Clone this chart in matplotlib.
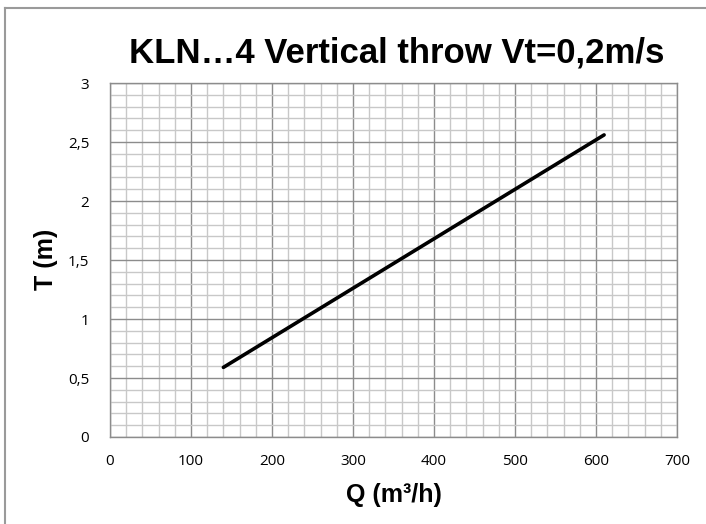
import matplotlib
matplotlib.use("Agg")
import matplotlib.pyplot as plt
from matplotlib.lines import Line2D
from matplotlib.ticker import MultipleLocator, FuncFormatter

# data
q_values = [140, 610]
t_values = [0.59, 2.56]

title = "KLN\u20264 Vertical throw Vt=0,2m/s"
x_label = "Q (m\u00b3/h)"
y_label = "T (m)"

W, H = 706, 524
fig = plt.figure(figsize=(W / 100, H / 100), dpi=100)
ax = fig.add_axes([110 / W, 1 - 437 / H, 567 / W, 354 / H])

# outer chart border (only top and left edges visible, rest is cropped)
fig.add_artist(Line2D([5 / W, 5 / W], [0, 1 - 8 / H], transform=fig.transFigure,
                      color="#9a9a9a", linewidth=1.5))
fig.add_artist(Line2D([5 / W, 1], [1 - 8 / H, 1 - 8 / H], transform=fig.transFigure,
                      color="#9a9a9a", linewidth=1.5))

ax.plot(q_values, t_values, color="black", linewidth=2.6, solid_capstyle="round")

ax.set_xlim(0, 700)
ax.set_ylim(0, 3)
ax.xaxis.set_major_locator(MultipleLocator(100))
ax.xaxis.set_minor_locator(MultipleLocator(20))
ax.yaxis.set_major_locator(MultipleLocator(0.5))
ax.yaxis.set_minor_locator(MultipleLocator(0.1))
ax.yaxis.set_major_formatter(FuncFormatter(lambda v, p: ("%g" % v).replace(".", ",")))

ax.grid(which="minor", color="#c8c8c8", linewidth=1.0)
ax.grid(which="major", color="#8c8c8c", linewidth=1.0)
ax.set_axisbelow(True)
ax.tick_params(which="both", length=0, labelsize=11)
ax.tick_params(axis="x", pad=12)
ax.tick_params(axis="y", pad=15)
for lbl in ax.get_xticklabels() + ax.get_yticklabels():
    lbl.set_fontfamily("Open Sans")
for s in ax.spines.values():
    s.set_color("#8c8c8c")
    s.set_linewidth(1.0)

fig.text(393.5 / W, 1 - 502 / H, x_label, ha="center", va="baseline",
         fontsize=18, fontweight="bold", family="Liberation Sans")
fig.text(53 / W, 1 - 259 / H, y_label, ha="center", va="baseline", rotation=90,
         fontsize=18, fontweight="bold", family="Liberation Sans",
         rotation_mode="anchor")
fig.text(396.5 / W, 1 - 62 / H, title, ha="center", va="baseline",
         fontsize=25, fontweight="bold", family="Liberation Sans")

fig.savefig("out.png", dpi=100)
